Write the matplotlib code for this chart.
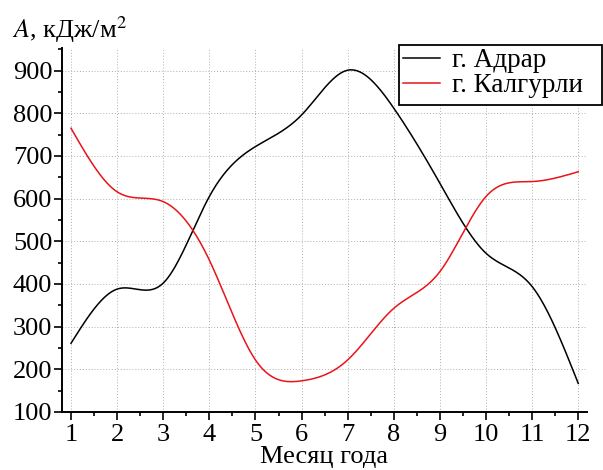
import numpy as np
import matplotlib
matplotlib.use("Agg")
import matplotlib.pyplot as plt
from matplotlib.ticker import MultipleLocator
from matplotlib.patches import Rectangle

months = [1, 2, 3, 4, 5, 6, 7, 8, 9, 10, 11, 12]
adrar = [261, 388, 402, 605, 722, 796, 901, 812, 636, 472, 394, 167]
kalgoorlie = [765, 616, 593, 456, 222, 173, 222, 343, 429, 605, 640, 663]
series_names = ["г. Адрар", "г. Калгурли"]
series_colors = ["#000000", "#e8141a"]
x_label = "Месяц года"
y_label = "$A$, кДж/м$^2$"


def natural_spline(x, y, n=400):
    x = np.asarray(x, float)
    y = np.asarray(y, float)
    k = len(x)
    h = np.diff(x)
    A = np.zeros((k, k))
    b = np.zeros(k)
    A[0, 0] = 1
    A[-1, -1] = 1
    for i in range(1, k - 1):
        A[i, i - 1] = h[i - 1]
        A[i, i] = 2 * (h[i - 1] + h[i])
        A[i, i + 1] = h[i]
        b[i] = 3 * ((y[i + 1] - y[i]) / h[i] - (y[i] - y[i - 1]) / h[i - 1])
    c = np.linalg.solve(A, b)
    xs = np.linspace(x[0], x[-1], n)
    idx = np.clip(np.searchsorted(x, xs) - 1, 0, k - 2)
    dx = xs - x[idx]
    bb = (y[idx + 1] - y[idx]) / h[idx] - h[idx] * (2 * c[idx] + c[idx + 1]) / 3
    dd = (c[idx + 1] - c[idx]) / (3 * h[idx])
    ys = y[idx] + bb * dx + c[idx] * dx ** 2 + dd * dx ** 3
    return xs, ys


plt.rcParams['font.family'] = ['Liberation Serif', 'DejaVu Serif']
plt.rcParams['mathtext.fontset'] = 'stix'

W, H = 603, 470
fig = plt.figure(figsize=(W / 100, H / 100), dpi=100)
ax = fig.add_axes([62 / W, 1 - 412 / H, (587 - 62) / W, (412 - 48) / H])

for vals, name, col in zip([adrar, kalgoorlie], series_names, series_colors):
    xs, ys = natural_spline(months, vals)
    ax.plot(xs, ys, color=col, lw=1.1, label=name)

ax.set_xlim(0.805, 12.19)
ax.set_ylim(100, 953)
ax.xaxis.set_minor_locator(MultipleLocator(0.5))
ax.yaxis.set_minor_locator(MultipleLocator(50))
ax.set_yticks(range(100, 1000, 100))
ax.set_xticks(months)

for s in ['top', 'right']:
    ax.spines[s].set_visible(False)
for s in ['left', 'bottom']:
    ax.spines[s].set_linewidth(1.4)

ax.tick_params(which='major', direction='out', length=5.5, width=1.2, labelsize=19)
ax.tick_params(which='minor', direction='out', length=2.8, width=1.2)
ax.tick_params(axis='y', which='major', pad=1.5)
ax.tick_params(axis='x', which='major', pad=3)
ax.grid(True, which='major', color='#b0b0b0', linestyle=(0, (1, 2)), linewidth=0.7)

fig.text(324 / W, 1 - 463 / H, x_label, fontsize=19, ha='center', va='baseline')
fig.text(12 / W, 1 - 38 / H, y_label, fontsize=19, ha='left', va='baseline')

# legend frame
frame = Rectangle((399 / W, 1 - 105 / H), (602 - 399) / W, 60 / H,
                  transform=fig.transFigure, facecolor='white', edgecolor='black',
                  linewidth=1.3, zorder=5)
fig.add_artist(frame)
leg = fig.legend(loc='upper left', bbox_to_anchor=(403 / W, 1 - 48 / H),
                 bbox_transform=fig.transFigure, borderaxespad=0, borderpad=0,
                 frameon=False, fontsize=19.5, handlelength=1.37,
                 handletextpad=0.44, labelspacing=0.0)
leg.set_zorder(6)

fig.savefig("out.png", dpi=100)
